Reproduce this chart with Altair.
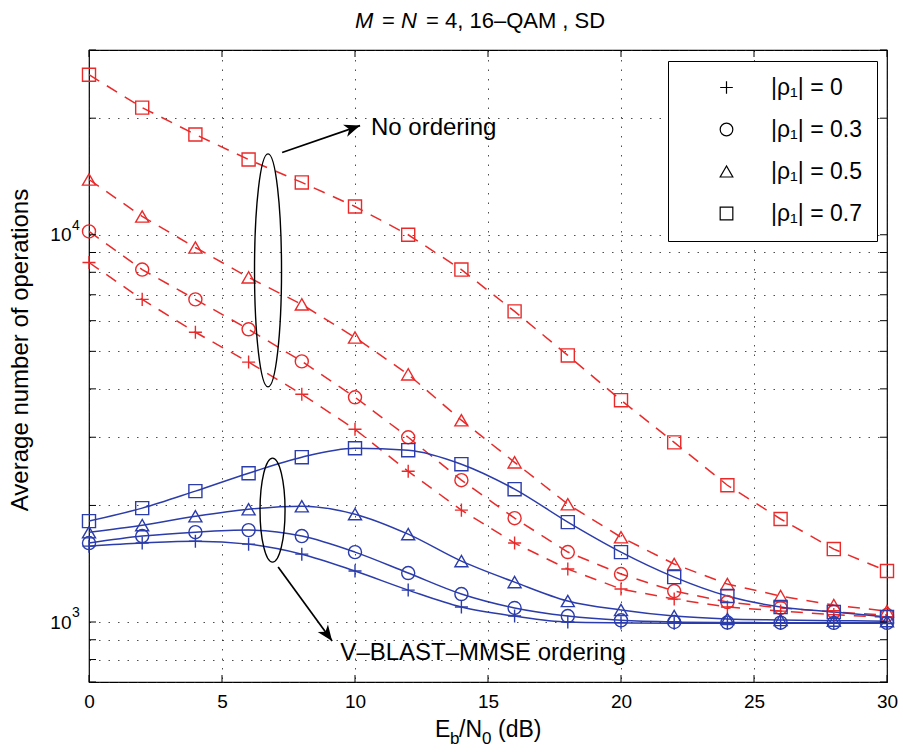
import altair as alt
import pandas as pd

FONT = "Liberation Sans"
RED = "#ea2a2a"
BLUE = "#2b3cab"

# ---------------- data ----------------
snr_db = [0, 2, 4, 6, 8, 10, 12, 14, 16, 18, 20, 22, 24, 26, 28, 30]
rho_labels = ["|ρ₁| = 0", "|ρ₁| = 0.3", "|ρ₁| = 0.5", "|ρ₁| = 0.7"]

# No ordering (red dashed)
noord_rho0 = [8480, 6810, 5600, 4690, 3873, 3145, 2450, 1945, 1599, 1370, 1217, 1146, 1093, 1067, 1045, 1028]
noord_rho3 = [10200, 8130, 6810, 5700, 4710, 3805, 3000, 2324, 1854, 1516, 1330, 1202, 1126, 1087, 1062, 1042]
noord_rho5 = [13890, 11150, 9270, 7760, 6610, 5430, 4360, 3320, 2585, 2015, 1656, 1412, 1253, 1167, 1106, 1067]
noord_rho7 = [25900, 21300, 18150, 15640, 13650, 11830, 10000, 8130, 6340, 4880, 3740, 2910, 2255, 1845, 1543, 1354]

# V-BLAST-MMSE ordering (blue solid)
mmse_rho0 = [1570, 1599, 1617, 1589, 1497, 1354, 1209, 1093, 1036, 1000, 995, 993, 993, 993, 993, 993]
mmse_rho3 = [1599, 1667, 1706, 1727, 1667, 1515, 1338, 1181, 1087, 1036, 1010, 1000, 997, 996, 995, 995]
mmse_rho5 = [1706, 1779, 1876, 1956, 1991, 1899, 1686, 1436, 1268, 1133, 1074, 1036, 1018, 1012, 1008, 1005]
mmse_rho7 = [1822, 1968, 2178, 2422, 2665, 2810, 2778, 2556, 2203, 1811, 1515, 1306, 1167, 1093, 1061, 1030]

x_ticks = [0, 5, 10, 15, 20, 25, 30]
y_ticks = [700, 800, 900, 1000, 2000, 3000, 4000, 5000, 6000, 7000, 8000, 9000, 10000, 20000, 30000]
y_label_vals = [1000, 10000]
y_label_exp = ["3", "4"]

# annotations (data coordinates)
ell_x = [6.73, 6.9]
ell_y = [8090, 1945]
arrow_x1 = [7.26, 7.11]
arrow_y1 = [16310, 1387]
arrow_x2 = [10.19, 9.14]
arrow_y2 = [19140, 893]
arrow_ang = [71, 144]
note_text = ["No ordering", "V–BLAST–MMSE ordering"]
note_x = [10.6, 9.45]
note_y = [18900, 830]

W, H = 798, 632

rows = []
for lab, a, b in zip(rho_labels, [noord_rho0, noord_rho3, noord_rho5, noord_rho7],
                     [mmse_rho0, mmse_rho3, mmse_rho5, mmse_rho7]):
    for s, v in zip(snr_db, a):
        rows.append(dict(snr=s, ops=v, rho=lab, scheme="none"))
    for s, v in zip(snr_db, b):
        rows.append(dict(snr=s, ops=v, rho=lab, scheme="mmse"))
df = pd.DataFrame(rows)
df_red = df[df.scheme == "none"]
df_blue = df[df.scheme == "mmse"]

xs = alt.Scale(domain=[0, 30], nice=False, zero=False)
ys = alt.Scale(type="log", domain=[700, 30000], nice=False)

x_axis = alt.Axis(values=x_ticks, grid=True, gridDash=[1.5, 8], gridColor="#222", gridOpacity=0.8,
                  gridWidth=1, ticks=False, domain=False, labelFont=FONT, labelFontSize=19,
                  labelColor="black", labelPadding=10, title=None, labelFlush=False)
y_axis = alt.Axis(values=y_ticks, grid=True, gridDash=[1.5, 8], gridColor="#222", gridOpacity=0.8,
                  gridWidth=1, ticks=False, domain=False, labelFont=FONT, labelFontSize=19,
                  labelColor="black", labelPadding=18, title=None, labelBaseline="middle",
                  labelExpr="(datum.value == 1000 || datum.value == 10000) ? '10' : ''")


def X(field):
    return alt.X(field, scale=xs, axis=x_axis, title=None)


def Y(field):
    return alt.Y(field, scale=ys, axis=y_axis, title=None)


PLUS = "M-1,0L1,0M0,-1L0,1"
shape_scale = alt.Scale(domain=rho_labels, range=[PLUS, "circle", "triangle-up", "square"])

legend = alt.Legend(title=None, orient="none", legendX=579, legendY=11, direction="vertical",
                    fillColor="white", strokeColor="black", padding=15,
                    symbolStrokeColor="black", symbolFillColor="transparent", symbolSize=160,
                    symbolStrokeWidth=1.2, symbolOffset=32, labelOffset=33,
                    labelFont=FONT, labelFontSize=23, labelColor="black", rowPadding=18,
                    labelLimit=300)

red_lines = alt.Chart(df_red).mark_line(color=RED, strokeDash=[12, 9], strokeWidth=1.5).encode(
    x=X("snr:Q"), y=Y("ops:Q"), detail="rho:N")
blue_lines = alt.Chart(df_blue).mark_line(color=BLUE, strokeWidth=1.5, interpolate="monotone").encode(
    x=X("snr:Q"), y=Y("ops:Q"), detail="rho:N")
red_pts = alt.Chart(df_red).mark_point(color=RED, filled=False, size=170, strokeWidth=1.4, opacity=1).encode(
    x=X("snr:Q"), y=Y("ops:Q"),
    shape=alt.Shape("rho:N", scale=shape_scale, legend=legend, sort=rho_labels))
blue_pts = alt.Chart(df_blue).mark_point(color=BLUE, filled=False, size=170, strokeWidth=1.4, opacity=1).encode(
    x=X("snr:Q"), y=Y("ops:Q"),
    shape=alt.Shape("rho:N", scale=shape_scale, legend=legend, sort=rho_labels))

# inward ticks (decoration)
xt = pd.DataFrame({"snr": x_ticks})
yt = pd.DataFrame({"ops": y_ticks})
tick_style = dict(color="black", strokeWidth=1)
xt_bot = alt.Chart(xt).mark_rule(**tick_style).encode(x=X("snr:Q"), y=alt.value(H), y2=alt.value(H - 7))
xt_top = alt.Chart(xt).mark_rule(**tick_style).encode(x=X("snr:Q"), y=alt.value(0), y2=alt.value(7))
yt_left = alt.Chart(yt).mark_rule(**tick_style).encode(y=Y("ops:Q"), x=alt.value(0), x2=alt.value(7))
yt_right = alt.Chart(yt).mark_rule(**tick_style).encode(y=Y("ops:Q"), x=alt.value(W), x2=alt.value(W - 7))

# superscript exponents of the y labels
exps = alt.Chart(pd.DataFrame({"ops": y_label_vals, "e": y_label_exp})).mark_text(
    font=FONT, fontSize=14, align="left", baseline="middle", dy=-9, color="black").encode(
    x=alt.value(-17), y=Y("ops:Q"), text="e:N")


def ellipse_path(rx):
    k = 0.5523
    return (f"M0,-1C{k*rx:.4f},-1 {rx:.4f},{-k:.4f} {rx:.4f},0"
            f"C{rx:.4f},{k:.4f} {k*rx:.4f},1 0,1"
            f"C{-k*rx:.4f},1 {-rx:.4f},{k:.4f} {-rx:.4f},0"
            f"C{-rx:.4f},{-k:.4f} {-k*rx:.4f},-1 0,-1Z")


ell1 = alt.Chart(pd.DataFrame({"snr": ell_x[:1], "ops": ell_y[:1]})).mark_point(
    shape=ellipse_path(27 / 233), size=233 ** 2, filled=False, color="black", strokeWidth=1.4, opacity=1
).encode(x=X("snr:Q"), y=Y("ops:Q"))
ell2 = alt.Chart(pd.DataFrame({"snr": ell_x[1:], "ops": ell_y[1:]})).mark_point(
    shape=ellipse_path(25 / 104), size=104 ** 2, filled=False, color="black", strokeWidth=1.4, opacity=1
).encode(x=X("snr:Q"), y=Y("ops:Q"))

arr_df = pd.DataFrame({"snr": arrow_x1, "ops": arrow_y1, "snr2": arrow_x2, "ops2": arrow_y2, "ang": arrow_ang})
arr_lines = alt.Chart(arr_df).mark_rule(color="black", strokeWidth=1.7).encode(
    x=X("snr:Q"), y=Y("ops:Q"), x2="snr2:Q", y2="ops2:Q")
HEAD = "M0,0L0.4,1L0,0.72L-0.4,1Z"
arr_heads = alt.Chart(arr_df).mark_point(shape=HEAD, size=1000, filled=True, color="black", opacity=1).encode(
    x=X("snr2:Q"), y=Y("ops2:Q"), angle=alt.Angle("ang:Q", scale=None))

notes = alt.Chart(pd.DataFrame({"snr": note_x, "ops": note_y, "t": note_text})).mark_text(
    font=FONT, fontSize=24, align="left", baseline="middle", color="black").encode(
    x=X("snr:Q"), y=Y("ops:Q"), text="t:N")


# titles composed from text pieces (pixel positions relative to plot area)
def label(txt, x, y, size, style="normal", angle=0, align="left"):
    return alt.Chart(pd.DataFrame({"t": [txt]})).mark_text(
        font=FONT, fontSize=size, fontStyle=style, align=align, baseline="alphabetic",
        color="black", angle=angle).encode(x=alt.value(x), y=alt.value(y), text="t:N")


title_parts = [
    label("M", 266, -22, 22, "italic"),
    label("=", 293, -22, 22),
    label("N", 312, -22, 22, "italic"),
    label("= 4, 16–QAM , SD", 337, -22, 22),
]
xtitle_parts = [
    label("E", 346, 687, 23),
    label("b", 361, 694, 17),
    label("/N", 370, 687, 23),
    label("0", 393, 694, 17),
    label("(dB)", 409, 687, 23),
]
ytitle = label("Average number of operations", -61, 300, 24, angle=270, align="center")

chart = alt.layer(
    red_lines, blue_lines, red_pts, blue_pts,
    xt_bot, xt_top, yt_left, yt_right, exps,
    ell1, ell2, arr_lines, arr_heads, notes,
    *title_parts, *xtitle_parts, ytitle
).properties(
    width=W, height=H,
    autosize=alt.AutoSizeParams(type="none"),
    padding={"left": 89, "top": 50, "right": 16, "bottom": 70},
    background="white",
).configure_view(stroke="black", strokeWidth=1.2)

chart.save("out.html", embed_options={"renderer": "svg", "actions": False})
